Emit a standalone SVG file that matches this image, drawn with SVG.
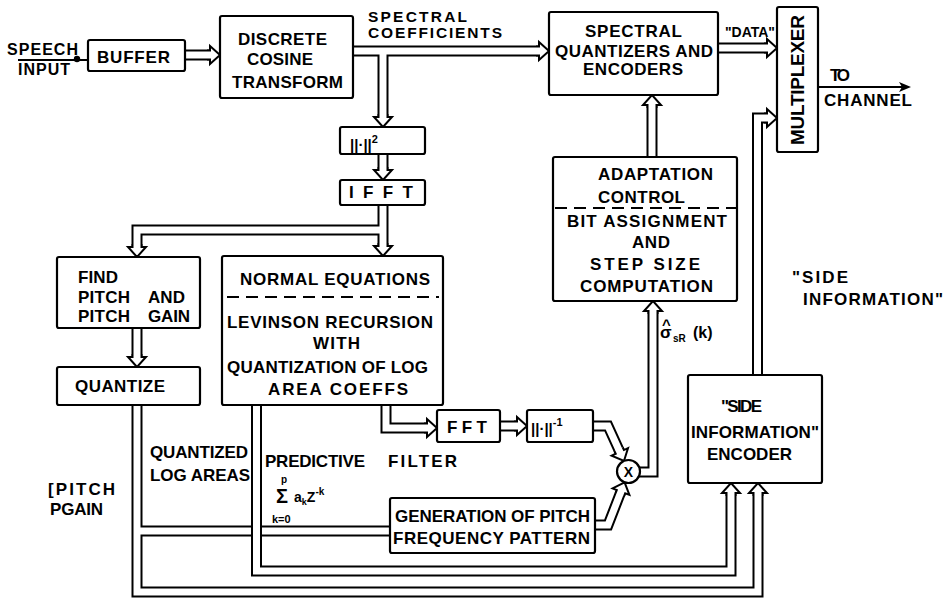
<svg xmlns="http://www.w3.org/2000/svg" width="948" height="603" viewBox="0 0 948 603" font-size="17">
  <defs>
    <style>
      text { font-family: "Liberation Sans", Arial, sans-serif; font-weight: bold; fill: #000; }
      .box { fill: #fff; stroke: #000; stroke-width: 2.2; }
      .dash { stroke: #000; stroke-width: 2; stroke-dasharray: 12 7; fill: none; }
      .ln { stroke: #000; stroke-width: 2; fill: none; }
      .po { fill: none; stroke: #000; stroke-width: 11; stroke-linejoin: miter; }
      .pi { fill: none; stroke: #fff; stroke-width: 7; stroke-linejoin: miter; }
    </style>
    <!-- hollow head for double-line (pipe) arrows, tip at origin, pointing +x -->
    <path id="ah" d="M-13,-4.5 L-10,-4.5 L-10,-9 L0,0 L-10,9 L-10,4.5 L-13,4.5" fill="#fff" stroke="#000" stroke-width="2" stroke-linejoin="miter"/>
  </defs>

  <rect width="948" height="603" fill="#fff"/>

  <!-- connectors: double-line pipes drawn as a black stroke with a white core -->
  <g id="connectors">
    <g class="po">
      <path d="M185,55 H209"/>
      <path d="M353,51 H538"/>
      <path d="M383,51 V116"/>
      <path d="M383,154 V169"/>
      <path d="M383,205 V245"/>
      <path d="M383,230 H137 V246"/>
      <path d="M137,328 V356"/>
      <path d="M652,157 V106"/>
      <path d="M718,48 H766"/>
      <path d="M757.5,375 V118 H766"/>
      <path d="M630,472 H653 V312"/>
      <path d="M386,405 V428 H426"/>
      <path d="M500,426 H516"/>
      <path d="M593,426 H608 L619.4,451"/>
      <path d="M595,525 H608 L620.6,492.6"/>
      <path d="M137,405 V592 H758 V494"/>
      <path d="M137,531 H390"/>
    </g>
    <g class="pi">
      <path d="M185,55 H209"/>
      <path d="M353,51 H538"/>
      <path d="M383,51 V116"/>
      <path d="M383,154 V169"/>
      <path d="M383,205 V245"/>
      <path d="M383,230 H137 V246"/>
      <path d="M137,328 V356"/>
      <path d="M652,157 V106"/>
      <path d="M718,48 H766"/>
      <path d="M757.5,375 V118 H766"/>
      <path d="M630,472 H653 V312"/>
      <path d="M386,405 V428 H426"/>
      <path d="M500,426 H516"/>
      <path d="M593,426 H608 L619.4,451"/>
      <path d="M595,525 H608 L620.6,492.6"/>
      <path d="M137,405 V592 H758 V494"/>
      <path d="M137,531 H390"/>
    </g>
    <!-- quantized log areas pipe crosses over the pitch pipe -->
    <path class="po" d="M256.5,405 V571 H731 V494"/>
    <path class="pi" d="M256.5,405 V571 H731 V494"/>

    <use href="#ah" transform="translate(220,55)"/>
    <use href="#ah" transform="translate(549,51)"/>
    <use href="#ah" transform="translate(383,127) rotate(90)"/>
    <use href="#ah" transform="translate(383,180) rotate(90)"/>
    <use href="#ah" transform="translate(383,256) rotate(90)"/>
    <use href="#ah" transform="translate(137,257) rotate(90)"/>
    <use href="#ah" transform="translate(137,367) rotate(90)"/>
    <use href="#ah" transform="translate(652,95) rotate(-90)"/>
    <use href="#ah" transform="translate(777,48)"/>
    <use href="#ah" transform="translate(777,118)"/>
    <use href="#ah" transform="translate(653,301) rotate(-90)"/>
    <use href="#ah" transform="translate(437,428)"/>
    <use href="#ah" transform="translate(527,426)"/>
    <use href="#ah" transform="translate(624,461) rotate(65.4)"/>
    <use href="#ah" transform="translate(624.6,482.3) rotate(-68.8)"/>
    <use href="#ah" transform="translate(758,483) rotate(-90)"/>
    <use href="#ah" transform="translate(731,483) rotate(-90)"/>

    <!-- single-line input and output -->
    <path class="ln" d="M18,60 H88"/>
    <circle cx="77" cy="59" r="3.2" fill="#000"/>
    <path class="ln" d="M818,87 H902"/>
    <path d="M911,87 L899,82 L902,87 L899,92 Z" fill="#000"/>
  </g>

  <!-- free labels -->
  <g id="labels">
    <text x="7" y="55" font-size="16" textLength="71">SPEECH</text>
    <text x="18" y="75" font-size="16" textLength="52">INPUT</text>
    <text font-size="15.5"><tspan x="368" y="22" textLength="99">SPECTRAL</tspan><tspan x="368" y="38" textLength="134">COEFFICIENTS</tspan></text>
    <text x="725" y="37" font-size="14" textLength="50">"DATA"</text>
    <text x="830" y="81" textLength="20">TO</text>
    <text x="824" y="106" textLength="88">CHANNEL</text>
    <text x="792" y="283" textLength="56">"SIDE</text>
    <text x="803" y="305" textLength="140">INFORMATION"</text>
    <text x="265" y="467" textLength="100">PREDICTIVE</text>
    <text x="388" y="467" textLength="69">FILTER</text>
    <!-- predictor polynomial: sum over k of a_k z^-k -->
    <text font-size="14"><tspan x="281" y="483" font-size="10">p</tspan><tspan x="276" y="503" font-size="20">Σ</tspan><tspan x="294" y="502">a</tspan><tspan font-size="9" dy="3">k</tspan><tspan dy="-3">Z</tspan><tspan font-size="10" dy="-7">-k</tspan><tspan x="272" y="523" font-size="11">k=0</tspan></text>
    <text x="150" y="458" textLength="98">QUANTIZED</text>
    <text x="150" y="481" textLength="100">LOG AREAS</text>
    <text x="48" y="495" textLength="67">[PITCH</text>
    <text x="50" y="515" textLength="53">PGAIN</text>
    <!-- estimated spectral level sigma-hat -->
    <text x="660" y="338">σ<tspan x="662" y="330" font-size="15">^</tspan><tspan x="673" y="342" font-size="10">sR</tspan><tspan x="693" y="338" font-size="16">(k)</tspan></text>
  </g>

  <g id="buffer">
    <rect class="box" x="88" y="40" width="97" height="31" rx="2"/>
    <text x="97" y="63" textLength="73">BUFFER</text>
  </g>

  <g id="dct">
    <rect class="box" x="220" y="16" width="133" height="82" rx="2"/>
    <text x="238" y="45" textLength="89">DISCRETE</text>
    <text x="247" y="65" textLength="66">COSINE</text>
    <text x="232" y="88" textLength="111">TRANSFORM</text>
  </g>

  <g id="spectral-quantizers">
    <rect class="box" x="549" y="12" width="169" height="83" rx="2"/>
    <text x="585" y="37" textLength="97">SPECTRAL</text>
    <text x="555" y="57" textLength="158">QUANTIZERS AND</text>
    <text x="583" y="75" textLength="100">ENCODERS</text>
  </g>

  <g id="multiplexer">
    <rect class="box" x="777" y="7" width="41" height="145" rx="2"/>
    <text transform="translate(804,80) rotate(-90)" x="-65" y="0" font-size="19" textLength="130">MULTIPLEXER</text>
  </g>

  <g id="magnitude-squared">
    <rect class="box" x="340" y="127" width="85" height="27" rx="2"/>
    <text x="350" y="150" font-size="15">||·||<tspan font-size="11" dy="-7">2</tspan></text>
  </g>

  <g id="ifft">
    <rect class="box" x="340" y="180" width="85" height="25" rx="2"/>
    <text x="349" y="198" textLength="64">IFFT</text>
  </g>

  <g id="find-pitch">
    <rect class="box" x="57" y="257" width="143" height="71" rx="2"/>
    <text x="78" y="283" textLength="40">FIND</text>
    <text x="78" y="303" textLength="52">PITCH</text>
    <text x="148" y="303" textLength="37">AND</text>
    <text x="78" y="322" textLength="52">PITCH</text>
    <text x="148" y="322" textLength="42">GAIN</text>
  </g>

  <g id="quantize">
    <rect class="box" x="57" y="367" width="143" height="38" rx="2"/>
    <text x="75" y="392" textLength="90">QUANTIZE</text>
  </g>

  <g id="normal-equations">
    <rect class="box" x="222" y="256" width="221" height="149" rx="2"/>
    <text x="240" y="285" textLength="190">NORMAL EQUATIONS</text>
    <line class="dash" x1="227" y1="297" x2="439" y2="297"/>
    <text x="227" y="328" textLength="206">LEVINSON RECURSION</text>
    <text x="313" y="349" textLength="47">WITH</text>
    <text x="227" y="373" textLength="201">QUANTIZATION OF LOG</text>
    <text x="268" y="395" textLength="140">AREA COEFFS</text>
  </g>

  <g id="adaptation-control">
    <rect class="box" x="553" y="157" width="184" height="144" rx="2"/>
    <text x="598" y="180" textLength="115">ADAPTATION</text>
    <text x="598" y="203" textLength="87">CONTROL</text>
    <line class="dash" x1="555" y1="208" x2="736" y2="208"/>
    <text x="567" y="227" textLength="160">BIT ASSIGNMENT</text>
    <text x="632" y="248" textLength="38">AND</text>
    <text x="590" y="270" textLength="110">STEP SIZE</text>
    <text x="580" y="292" textLength="133">COMPUTATION</text>
  </g>

  <g id="fft">
    <rect class="box" x="437" y="410" width="63" height="32" rx="2"/>
    <text x="447" y="433" textLength="40">FFT</text>
  </g>

  <g id="inverse-magnitude">
    <rect class="box" x="527" y="410" width="66" height="32" rx="2"/>
    <text x="531" y="434" font-size="15">||·||<tspan font-size="11" dy="-8">-1</tspan></text>
  </g>

  <g id="multiplier">
    <circle class="box" cx="628.5" cy="471.5" r="11.5"/>
    <text x="628.5" y="477" font-size="14" text-anchor="middle">X</text>
  </g>

  <g id="pitch-pattern">
    <rect class="box" x="390" y="498" width="205" height="55" rx="2"/>
    <text x="395" y="522" textLength="195">GENERATION OF PITCH</text>
    <text x="393" y="544" textLength="197">FREQUENCY PATTERN</text>
  </g>

  <g id="side-info-encoder">
    <rect class="box" x="688" y="375" width="134" height="108" rx="2"/>
    <text x="721" y="412" textLength="41">"SIDE</text>
    <text x="691" y="438" textLength="128">INFORMATION"</text>
    <text x="707" y="460" textLength="85">ENCODER</text>
  </g>
</svg>
